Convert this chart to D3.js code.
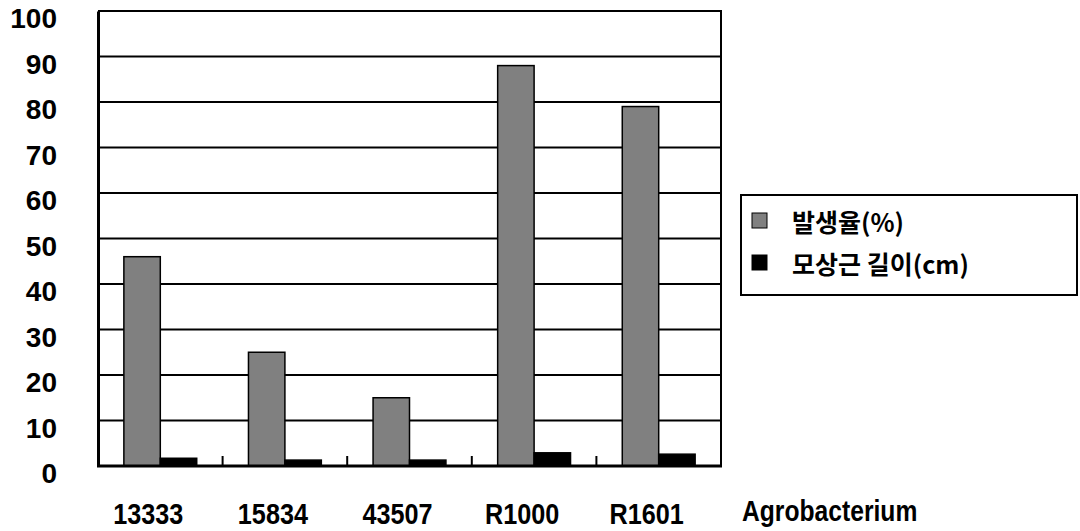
<!DOCTYPE html>
<html>
<head>
<meta charset="utf-8">
<script src="https://cdn.jsdelivr.net/npm/d3@7"></script>
<style>
  html, body { margin: 0; padding: 0; background: #fff; }
  svg { display: block; }
  .num { font-family: "Liberation Sans", Arial, sans-serif; font-weight: bold; fill: #000; }
  .kor { font-family: "Noto Sans CJK KR", sans-serif; font-weight: bold; fill: #000; }
</style>
</head>
<body>
<svg id="chart" width="1080" height="531"></svg>
<script>
// Agrobacterium strains and the two measured series
const strains = ["13333", "15834", "43507", "R1000", "R1601"];
const seriesNames = ["발생율(%)", "모상근 길이(cm)"];
const rate = [46, 25, 15, 88, 79];            // 발생율 (%)
const rootLength = [1.7, 1.3, 1.3, 2.9, 2.6]; // 모상근 길이 (cm)
const yTicks = [0, 10, 20, 30, 40, 50, 60, 70, 80, 90, 100];
const xTitle = "Agrobacterium";
const seriesColors = ["#808080", "#000000"];

const W = 1080, H = 531;
const plot = { left: 98, right: 721, top: 11, bottom: 466 };

const svg = d3.select("#chart");
svg.append("rect").attr("width", W).attr("height", H).attr("fill", "#fff");

const x = d3.scaleBand().domain(strains).range([plot.left, plot.right]).paddingInner(0).paddingOuter(0);
const xs = d3.scaleBand().domain(seriesNames).range([0, x.bandwidth()]).paddingInner(0).paddingOuter(0.71);
const y = d3.scaleLinear().domain([0, 100]).range([plot.bottom, plot.top]);
const color = d3.scaleOrdinal().domain(seriesNames).range(seriesColors);

// squeeze a text horizontally to a fraction of its natural width
function squeeze(sel, f) {
  sel.each(function () {
    const len = this.getComputedTextLength();
    d3.select(this).attr("textLength", len * f).attr("lengthAdjust", "spacingAndGlyphs");
  });
}

// horizontal grid lines
svg.append("g")
  .selectAll("line")
  .data(yTicks.filter(d => d > 0))
  .join("line")
  .attr("x1", plot.left).attr("x2", plot.right)
  .attr("y1", d => y(d)).attr("y2", d => y(d))
  .attr("stroke", "#000").attr("stroke-width", 2);

// right border
svg.append("line")
  .attr("x1", plot.right).attr("x2", plot.right)
  .attr("y1", y(100) - 1).attr("y2", y(0))
  .attr("stroke", "#000").attr("stroke-width", 2);

// bars
const rows = strains.map((s, i) => ({ strain: s, values: [rate[i], rootLength[i]] }));
const groups = svg.append("g").selectAll("g")
  .data(rows)
  .join("g")
  .attr("transform", d => `translate(${x(d.strain)},0)`);

groups.selectAll("rect")
  .data(d => d.values.map((v, k) => ({ key: seriesNames[k], value: v })))
  .join("rect")
  .attr("x", d => xs(d.key))
  .attr("y", d => y(d.value))
  .attr("width", xs.bandwidth())
  .attr("height", d => y(0) - y(d.value))
  .attr("fill", d => color(d.key))
  .attr("stroke", "#000")
  .attr("stroke-width", 1.5);

// y axis
const yAxis = svg.append("g")
  .attr("transform", `translate(${plot.left},0)`)
  .call(d3.axisLeft(y).tickValues(yTicks).tickSize(0).tickPadding(41).tickFormat(d3.format("d")));
yAxis.select(".domain").attr("stroke", "#000").attr("stroke-width", 3);
yAxis.selectAll("text")
  .attr("class", "num")
  .attr("font-size", null)
  .style("font-size", "28px")
  .attr("y", 8);

// x axis: baseline and category boundary ticks
svg.append("line")
  .attr("x1", plot.left - 1).attr("x2", plot.right + 1)
  .attr("y1", y(0)).attr("y2", y(0))
  .attr("stroke", "#000").attr("stroke-width", 3);

svg.append("g")
  .selectAll("line")
  .data(strains.slice(1))
  .join("line")
  .attr("x1", d => x(d)).attr("x2", d => x(d))
  .attr("y1", y(0)).attr("y2", y(0) - 10)
  .attr("stroke", "#000").attr("stroke-width", 2);

const xLabels = svg.append("g")
  .selectAll("text")
  .data(strains)
  .join("text")
  .attr("class", "num")
  .style("font-size", "30px")
  .attr("text-anchor", "middle")
  .attr("x", d => x(d) + x.bandwidth() / 2 - 12)
  .attr("y", 524)
  .text(d => d);
squeeze(xLabels, 0.84);

const title = svg.append("text")
  .attr("class", "num")
  .style("font-size", "29px")
  .attr("x", 742)
  .attr("y", 521)
  .text(xTitle);
squeeze(title, 0.85);

// legend
const legend = svg.append("g").attr("transform", "translate(741,195)");
legend.append("rect")
  .attr("width", 336).attr("height", 100)
  .attr("fill", "#fff").attr("stroke", "#000").attr("stroke-width", 2);
const items = legend.selectAll("g.item")
  .data(seriesNames)
  .join("g")
  .attr("class", "item")
  .attr("transform", (d, i) => `translate(11,${18 + i * 42})`);
items.append("rect")
  .attr("width", 15).attr("height", 15)
  .attr("fill", d => color(d))
  .attr("stroke", "#000").attr("stroke-width", 1);
items.append("text")
  .attr("class", "kor")
  .style("font-size", "25px")
  .attr("x", 40)
  .attr("y", 8)
  .attr("dominant-baseline", "central")
  .text(d => d);
</script>
</body>
</html>
